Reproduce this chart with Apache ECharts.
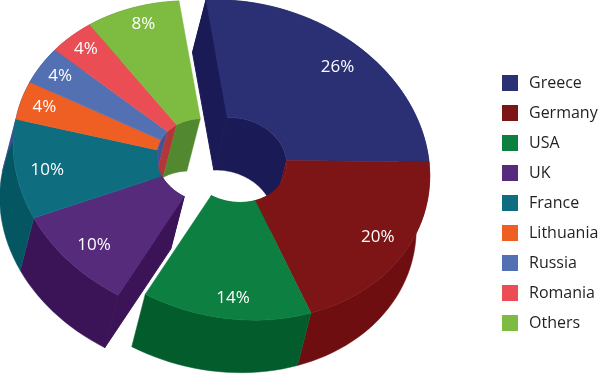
<!DOCTYPE html>
<html>
<head>
<meta charset="utf-8">
<style>
  html, body { margin: 0; padding: 0; background: #fff; }
  #chart { width: 600px; height: 374px; }
</style>
<script src="https://cdn.jsdelivr.net/npm/echarts@6/dist/echarts.min.js"></script>
</head>
<body>
<div id="chart"></div>
<script>
const countries = ["Greece", "Germany", "USA", "UK", "France", "Lithuania", "Russia", "Romania", "Others"];
const shares = [26, 20, 14, 10, 10, 4, 4, 4, 8];

const topColors = ["#2b3075", "#7d1416", "#0d7f40", "#562b7b", "#0f6d80", "#ef5e22", "#5370b3", "#ea4e54", "#7dbb41"];
const wallColors = ["#1a1a57", "#6f0e10", "#035c2b", "#3b1458", "#055663", "#3f4f95", "#3f5598", "#b33639", "#52882f"];

// the disc is a circle under an oblique projection: axisA is where the start
// of the first slice points, axisB a quarter turn later
const axisA = [-29, -160];
const axisB = [192.6, -8];
const depth = [-13.5, 52.5];
const holeRatio = 0.265;
const labelRatio = 0.85;
// labels were placed by hand in the original, so each gets a small nudge
const labelNudges = [[0, 5], [1, -4], [4.5, 3], [4, -1], [3, 2], [-5, -2], [-6, -3], [-6, -6], [0, -7]];

// the pie is pulled apart in two halves
const rightCenter = [235, 160];
const leftCenter = [208, 161];
const firstLeftSlice = 3;

const total = shares.reduce((a, b) => a + b, 0);
const starts = [];
shares.reduce((sum, v, i) => { starts[i] = sum; return sum + v; }, 0);

function project(center, share, ratio, shift) {
  const t = 2 * Math.PI * share / total;
  const c = Math.cos(t), s = Math.sin(t);
  const off = shift ? depth : [0, 0];
  return [
    center[0] + ratio * (axisA[0] * c + axisB[0] * s) + off[0],
    center[1] + ratio * (axisA[1] * c + axisB[1] * s) + off[1],
  ];
}

function arc(center, from, to, ratio, shift) {
  const steps = Math.max(4, Math.ceil((to - from) * 1.5));
  const pts = [];
  for (let i = 0; i <= steps; i++) {
    pts.push(project(center, from + (to - from) * i / steps, ratio, shift));
  }
  return pts;
}

function polygon(points, color, z2, lineWidth) {
  return {
    type: "polygon",
    z2,
    shape: { points },
    style: { fill: color, stroke: color, lineWidth },
  };
}

function sliceInfo(i) {
  return {
    center: i >= firstLeftSlice ? leftCenter : rightCenter,
    from: starts[i],
    to: starts[i] + shares[i],
  };
}

function renderWalls(params) {
  const i = params.dataIndex;
  const { center, from, to } = sliceInfo(i);
  const color = wallColors[i];
  const inner = arc(center, from, to, holeRatio, false);
  const innerLow = arc(center, from, to, holeRatio, true);
  const outer = arc(center, from, to, 1, false);
  const outerLow = arc(center, from, to, 1, true);
  const children = [
    polygon(inner.concat(innerLow.reverse()), color, 2, 0.5),
    polygon(outer.concat(outerLow.reverse()), color, 3, 0.5),
  ];
  // only the first slice of each half shows its cut face
  if (i === 0 || i === firstLeftSlice) {
    children.push(polygon([
      project(center, from, holeRatio, false),
      project(center, from, 1, false),
      project(center, from, 1, true),
      project(center, from, holeRatio, true),
    ], color, 1, 1));
  }
  return { type: "group", children };
}

function renderTop(i) {
  const { center, from, to } = sliceInfo(i);
  const points = arc(center, from, to, 1, false).concat(arc(center, from, to, holeRatio, false).reverse());
  const pos = project(center, (from + to) / 2, labelRatio, false);
  return {
    type: "group",
    children: [
      polygon(points, topColors[i], 1, 0.5),
      {
        type: "text",
        z2: 5,
        style: {
          x: pos[0] + labelNudges[i][0],
          y: pos[1] + labelNudges[i][1],
          text: shares[i] + "%",
          fill: "#fff",
          font: '17px "Open Sans"',
          align: "center",
          verticalAlign: "middle",
        },
      },
    ],
  };
}

const chart = echarts.init(document.getElementById("chart"), null, { renderer: "canvas" });

chart.setOption({
  backgroundColor: "#fff",
  animation: false,
  legend: {
    data: countries,
    orient: "vertical",
    left: 502,
    top: 75,
    padding: 0,
    icon: "rect",
    itemWidth: 16,
    itemHeight: 16,
    itemGap: 14,
    selectedMode: false,
    textStyle: { color: "#231f20", fontFamily: "Open Sans", fontSize: 16, padding: [0, 0, 0, 6] },
  },
  series: [
    {
      type: "custom",
      name: "walls",
      coordinateSystem: "none",
      z: 2,
      silent: true,
      data: shares,
      renderItem: renderWalls,
    },
  ].concat(countries.map((name, i) => ({
    type: "custom",
    name,
    coordinateSystem: "none",
    z: 3,
    silent: true,
    itemStyle: { color: topColors[i] },
    data: [shares[i]],
    renderItem: () => renderTop(i),
  }))),
});
</script>
</body>
</html>
